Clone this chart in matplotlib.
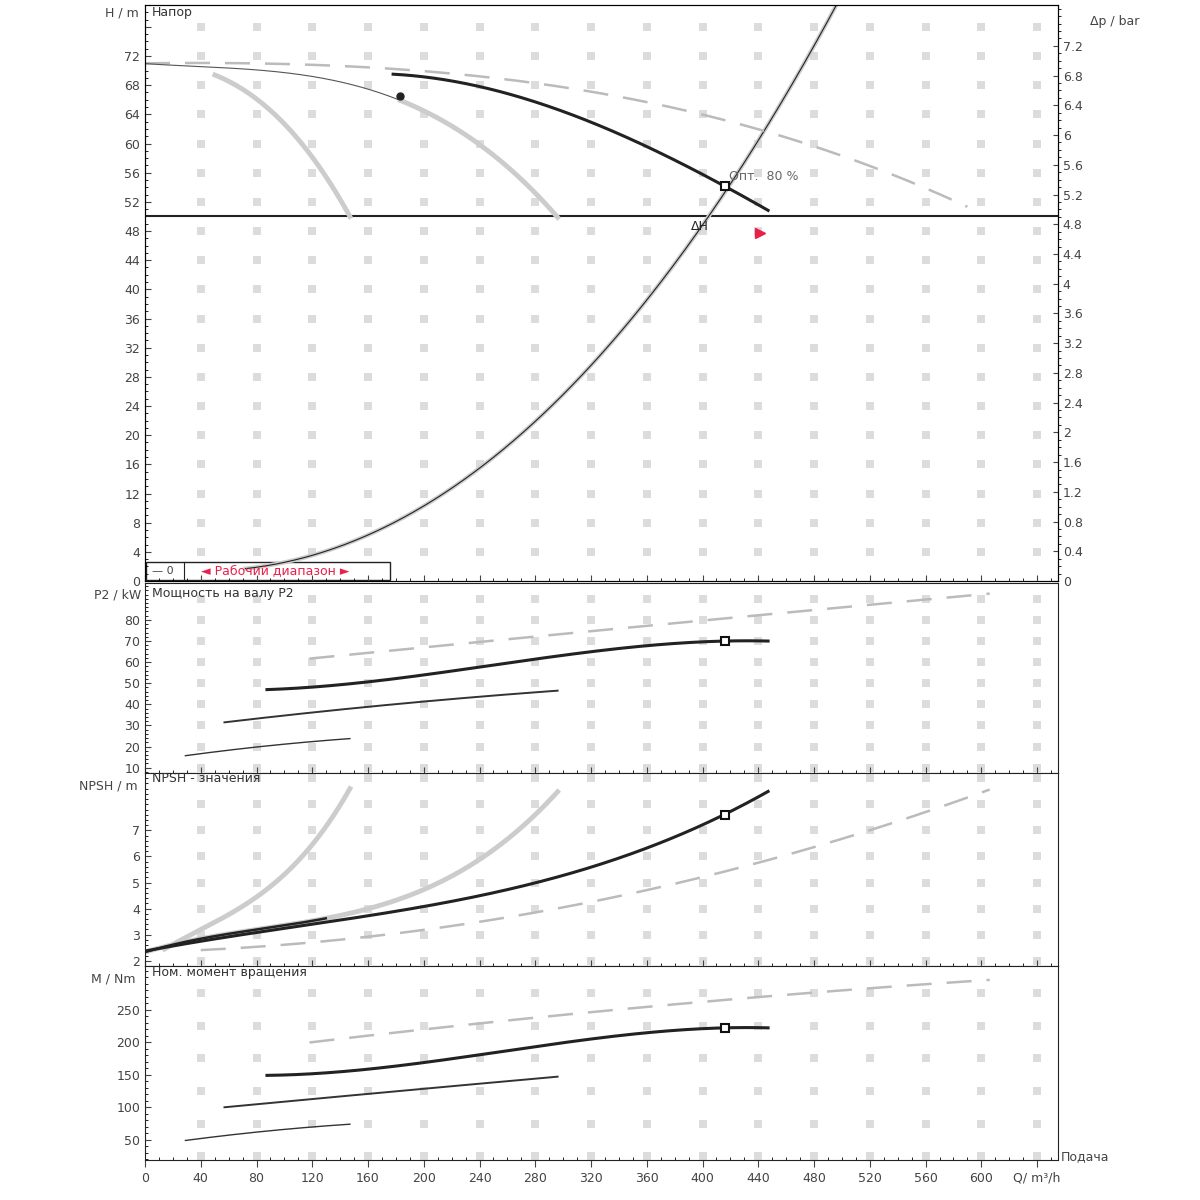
import matplotlib
matplotlib.use("Agg")
import matplotlib.pyplot as plt
import numpy as np

# ---- data ----
sys_q = [72, 100, 150, 200, 250, 300, 350, 400, 416, 450, 497]
sys_h = [1.5, 2.6, 6, 10, 17, 25.5, 36, 48, 54.2, 64, 79]
main_q = [178, 254, 326, 416, 447]
main_h = [69.5, 67.2, 62.4, 54.2, 50.8]
max_q = [0, 120, 230, 330, 441, 505, 590]
max_h = [71, 70.8, 69.5, 66.5, 62.4, 57.6, 51.4]
mid_q = [0, 100, 183, 233, 296]
mid_h = [71, 69.5, 66.5, 60.3, 50]
low_q = [0, 30, 61, 111, 147]
low_h = [71, 70.5, 68.5, 60.3, 50]
op_q, op_h = 416, 54.2

pw_dash_q = [118, 326, 441, 606]; pw_dash = [62, 73.5, 84, 92]
pw_main_q = [87.5, 254, 416, 447]; pw_main = [47, 59, 70, 70]
pw_mid_q = [57, 147, 296]; pw_mid = [31.5, 38, 46.5]
pw_low_q = [29, 90, 147]; pw_low = [15.7, 20.5, 23.8]

np_main_q = [0, 11, 197, 283, 355, 416, 447]; np_main = [2.4, 2.45, 4.07, 5.0, 6.25, 7.6, 8.5]
np_mid_q = [0, 40, 118, 197, 254, 296]; np_mid = [2.4, 2.7, 3.65, 4.6, 6.4, 8.5]
np_low_q = [14, 61, 111, 147]; np_low = [2.45, 3.8, 5.9, 8.6]
np_dash_q = [40, 219, 297, 412, 505, 606]; np_dash = [2.4, 3.35, 4.1, 5.1, 7.0, 8.5]

tq_dash_q = [118, 326, 441, 606]; tq_dash = [200, 245, 272, 295]
tq_main_q = [87.5, 254, 416, 447]; tq_main = [149, 185, 222, 222]
tq_mid_q = [57, 147, 296]; tq_mid = [100, 118, 147]
tq_low_q = [29, 90, 147]; tq_low = [49, 64, 74]

xticks = list(range(0, 641, 40))
xlabels = [str(v) for v in xticks[:-1]] + ["Q/ m³/h"]

def sm(q, v, n=300, deg=3):
    q = np.asarray(q, float); v = np.asarray(v, float)
    deg = min(deg, len(q) - 1)
    c = np.polyfit(q, v, deg)
    xs = np.linspace(q[0], q[-1], n)
    return xs, np.polyval(c, xs)

fig = plt.figure(figsize=(12, 12), dpi=100)
L, W = 145/1200, 913/1200
def mkax(top, bot):
    return fig.add_axes([L, 1-bot/1200, W, (bot-top)/1200])
axH = mkax(5, 581); axP = mkax(583, 773); axN = mkax(773, 966); axM = mkax(966, 1160)
GR = "#dcdcdc"
for ax in (axH, axP, axN, axM):
    ax.set_xlim(0, 655)
    ax.set_xticks(xticks)
    ax.minorticks_on()
    ax.tick_params(labelsize=9, colors="#444", direction="in", length=4)
    ax.tick_params(which="minor", direction="in", length=2)
    for s in ax.spines.values():
        s.set_color("#222")
    if ax is not axM:
        ax.tick_params(axis="x", labelbottom=False)
axM.set_xticklabels(xlabels, fontsize=9, color="#444")
axM.tick_params(axis="x", direction="out", length=5)

def dots(ax, yt):
    gx, gy = np.meshgrid(xticks[1:], yt)
    ax.scatter(gx.ravel(), gy.ravel(), marker="s", s=28, color=GR, lw=0, zorder=0)

def curve(ax, q, v, deg=3, **kw):
    x, y = sm(q, v, deg=deg); ax.plot(x, y, **kw); return x, y

# Head
axH.set_ylim(0, 79)
axH.set_yticks(range(0, 77, 4))
axH.set_yticklabels([str(v) for v in range(0, 73, 4)] + [""])
dots(axH, range(4, 77, 4))
axH.axhline(50, color="#222", lw=1.5)
x, y = curve(axH, sys_q, sys_h, color="#cccccc", lw=3); axH.plot(x, y, color="#222", lw=0.8)
curve(axH, max_q, max_h, color="#bbbbbb", lw=1.8, dashes=(10, 6))
x, y = sm(mid_q, mid_h)
m = x <= 183; axH.plot(x[m], y[m], color="#555", lw=0.8)
m = x >= 183; axH.plot(x[m], y[m], color="#cccccc", lw=3.5)
x, y = sm(low_q, low_h); m = x >= 50; axH.plot(x[m], y[m], color="#cccccc", lw=3.5)
curve(axH, main_q, main_h, color="#222", lw=2.2)
axH.plot([op_q], [op_h], marker="s", ms=6, mfc="white", mec="#111", mew=1.5)
axH.plot([183], [66.5], marker="o", ms=5, color="#222")
axH.text(op_q+3, op_h+0.8, "Опт.  80 %", fontsize=9, color="#666")
axH.text(392, 48.2, "ΔH", fontsize=9, color="#222")
axH.plot([441], [47.7], marker=">", ms=7, color="#e8204a")
axH.text(5, 77.5, "Напор", fontsize=9, color="#333")
axH.set_ylabel("H / m", fontsize=9, color="#444", rotation=0)
axH.yaxis.set_label_coords(-0.025, 0.975)
axR = axH.twinx()
axR.set_ylim(0, 79*0.0981)
rt = np.round(np.arange(0, 7.3, 0.4), 1)
axR.set_yticks(rt)
axR.set_yticklabels([("%g" % v) for v in rt])
axR.tick_params(labelsize=9, colors="#444", direction="in")
axR.minorticks_on()
axR.text(1.035, 0.965, "Δp / bar", transform=axH.transAxes, fontsize=9, color="#444")
# legend box
axH.add_patch(plt.Rectangle((1, 0.15), 175, 2.5, fill=False, ec="#222", lw=1))
axH.plot([28, 28], [0.15, 2.65], color="#222", lw=0.8)
axH.text(5, 1.0, "— 0", fontsize=8, color="#444")
axH.text(40, 1.0, "◄ Рабочий диапазон ►", fontsize=9, color="#e8204a")

# Power
axP.set_ylim(7.5, 97.5)
axP.set_yticks(range(10, 81, 10))
dots(axP, range(10, 91, 10))
curve(axP, pw_dash_q, pw_dash, deg=2, color="#bbbbbb", lw=1.8, dashes=(10, 6))
curve(axP, pw_main_q, pw_main, color="#222", lw=2.2)
curve(axP, pw_mid_q, pw_mid, color="#333", lw=1.4)
curve(axP, pw_low_q, pw_low, color="#333", lw=1.0)
axP.plot([op_q], [70], marker="s", ms=6, mfc="white", mec="#111", mew=1.5)
axP.text(5, 91, "Мощность на валу P2", fontsize=9, color="#333")
axP.set_ylabel("P2 / kW", fontsize=9, color="#444", rotation=0)
axP.yaxis.set_label_coords(-0.03, 0.9)

# NPSH
axN.set_ylim(1.8, 9.2)
axN.set_yticks(range(2, 8))
dots(axN, range(2, 10))
curve(axN, np_dash_q, np_dash, color="#bbbbbb", lw=1.8, dashes=(10, 6))
curve(axN, np_low_q, np_low, color="#cccccc", lw=3.5)
x, y = curve(axN, np_mid_q, np_mid, color="#cccccc", lw=3.5)
m = x <= 130; axN.plot(x[m], y[m], color="#222", lw=1.8)
curve(axN, np_main_q, np_main, color="#222", lw=2.2)
axN.plot([op_q], [7.6], marker="s", ms=6, mfc="white", mec="#111", mew=1.5)
axN.text(5, 8.85, "NPSH - значения", fontsize=9, color="#333")
axN.set_ylabel("NPSH / m", fontsize=9, color="#444", rotation=0)
axN.yaxis.set_label_coords(-0.04, 0.9)

# Torque
axM.set_ylim(19, 317)
axM.set_yticks(range(50, 251, 50))
dots(axM, range(25, 301, 50))
curve(axM, tq_dash_q, tq_dash, deg=2, color="#bbbbbb", lw=1.8, dashes=(10, 6))
curve(axM, tq_main_q, tq_main, color="#222", lw=2.2)
curve(axM, tq_mid_q, tq_mid, color="#333", lw=1.4)
curve(axM, tq_low_q, tq_low, color="#333", lw=1.0)
axM.plot([op_q], [222], marker="s", ms=6, mfc="white", mec="#111", mew=1.5)
axM.text(5, 302, "Ном. момент вращения", fontsize=9, color="#333")
axM.set_ylabel("M / Nm", fontsize=9, color="#444", rotation=0)
axM.yaxis.set_label_coords(-0.035, 0.9)
axM.text(1.003, 0.0, "Подача", transform=axM.transAxes, fontsize=9, color="#444")

fig.savefig("out.png", dpi=100)
